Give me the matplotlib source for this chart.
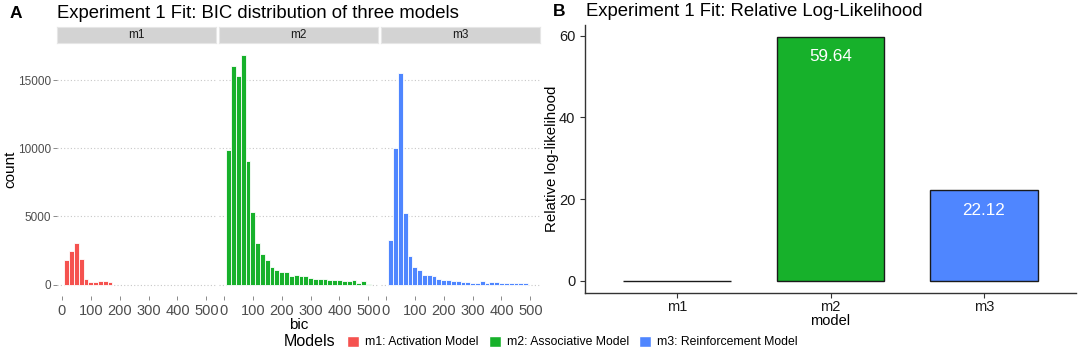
import numpy as np
import matplotlib
matplotlib.use("Agg")
import matplotlib.pyplot as plt
from matplotlib.patches import Patch
from matplotlib.offsetbox import HPacker

plt.rcParams['font.family'] = ['Liberation Sans', 'DejaVu Sans']

# histogram data (bin centres at multiples of ~16.67)
bin_width = 500 / 30
m1_counts = [1820, 2480, 3070, 1880, 380, 150, 200, 270, 270, 170]
m2_counts = [9900, 16030, 15300, 16890, 9100, 5350, 3060, 2230, 1830, 1290,
             1080, 950, 950, 650, 720, 630, 640, 480, 380, 400,
             430, 320, 320, 320, 230, 230, 300, 130, 230, 30]
m3_counts = [3280, 10000, 15540, 5250, 2080, 1290, 1070, 710, 690, 600,
             430, 340, 330, 240, 230, 150, 160, 120, 120, 240,
             120, 190, 190, 110, 80, 80, 80, 80, 100]
panels = ['m1', 'm2', 'm3']
hist_counts = [m1_counts, m2_counts, m3_counts]

# relative log-likelihood
models = ['m1', 'm2', 'm3']
rel_ll = [0.0, 59.64, 22.12]
legend_labels = ['m1: Activation Model', 'm2: Associative Model', 'm3: Reinforcement Model']

colors = ['#F5524F', '#17B12B', '#4F86FF']

fig = plt.figure(figsize=(10.84, 3.55), dpi=100)
W, H = 1084, 355

def ax_at(x0, y0, x1, y1):
    return fig.add_axes([x0 / W, 1 - y1 / H, (x1 - x0) / W, (y1 - y0) / H])

# ---- panel A ----
panel_x = [(57, 216), (219, 378), (381, 540)]
for i, (px0, px1) in enumerate(panel_x):
    ax = ax_at(px0, 43, px1, 296)
    cnt = hist_counts[i]
    centers = bin_width * np.arange(1, len(cnt) + 1)
    ax.bar(centers, cnt, width=bin_width, color=colors[i], edgecolor='white', linewidth=0.6)
    ax.set_xlim(-16.7, 533.3)
    ax.set_ylim(-845, 17745)
    ax.set_yticks([0, 5000, 10000, 15000])
    ax.set_xticks([0, 100, 200, 300, 400, 500])
    ax.yaxis.grid(True, color='#C8C8C8', linestyle=(0, (1, 2)), linewidth=0.8)
    ax.set_axisbelow(True)
    for s in ax.spines.values():
        s.set_visible(False)
    ax.tick_params(axis='both', colors='#777777', labelcolor='#4D4D4D', length=3, width=0.6)
    ax.tick_params(axis='x', labelsize=10.5, pad=2.5)
    ax.tick_params(axis='y', labelsize=8.5, pad=1.5)
    if i > 0:
        ax.set_yticklabels([])
        ax.tick_params(axis='y', length=0)
    if i == 1:
        ax.set_xlabel('bic', fontsize=11, labelpad=0)
    # strip
    sax = ax_at(px0, 27, px1, 43)
    sax.set_facecolor('#D3D3D3')
    sax.set_xticks([])
    sax.set_yticks([])
    for s in sax.spines.values():
        s.set_color('#E6E6E6')
    sax.text(0.5, 0.5, panels[i], ha='center', va='center', fontsize=8.5, color='#1A1A1A', transform=sax.transAxes)

fig.text(10.5 / W, 1 - 169 / H, 'count', fontsize=11, rotation=90, ha='center', va='center')
fig.text(10 / W, 1 - 13 / H, 'A', fontsize=12.5, fontweight='bold', va='center')
fig.text(57 / W, 1 - 13 / H, 'Experiment 1 Fit: BIC distribution of three models', fontsize=13.3, va='center')

# legend, title beside the entries, centred under the figure
handles = [Patch(facecolor=c, edgecolor='white', label=l) for c, l in zip(colors, legend_labels)]
leg = fig.legend(handles=handles, loc='center', bbox_to_anchor=(541 / W, 1 - 342 / H), ncol=3,
                 frameon=False, fontsize=8.8, title='Models', title_fontsize=11.5,
                 handlelength=1.0, handleheight=1.0, handletextpad=0.5, columnspacing=0.8)
leg._legend_box = HPacker(pad=0, sep=8, align='center',
                          children=[leg._legend_title_box, leg._legend_handle_box])
leg._legend_box.set_figure(fig)
leg._legend_box.set_offset(leg._findoffset)

# ---- panel B ----
axb = ax_at(585, 25, 1076, 293)
xpos = np.arange(1, len(models) + 1)
axb.bar(xpos, rel_ll, width=0.7, color=colors, edgecolor='#1A1A1A', linewidth=1.0)
axb.set_xlim(0.4, 3.6)
axb.set_ylim(-2.98, 62.6)
axb.set_xticks(xpos)
axb.set_xticklabels(models)
axb.set_yticks([0, 20, 40, 60])
for s in ['top', 'right']:
    axb.spines[s].set_visible(False)
for s in ['left', 'bottom']:
    axb.spines[s].set_color('#333333')
    axb.spines[s].set_linewidth(1.0)
axb.tick_params(axis='both', colors='#333333', labelcolor='#1A1A1A', labelsize=10.5, length=3.5, width=0.8)
axb.tick_params(axis='x', pad=1.5)
for x, v in zip(xpos, rel_ll):
    if v > 0:
        axb.text(x, v - 4.8, f'{v:.2f}', ha='center', va='center', color='white', fontsize=12.3)
axb.set_xlabel('model', fontsize=10.5, labelpad=0)
fig.text(552 / W, 1 - 159 / H, 'Relative log-likelihood', fontsize=10.8, rotation=90, ha='center', va='center')

fig.text(553 / W, 1 - 11 / H, 'B', fontsize=12.5, fontweight='bold', va='center')
fig.text(586 / W, 1 - 11 / H, 'Experiment 1 Fit: Relative Log-Likelihood', fontsize=13.3, va='center')

fig.savefig('out.png', dpi=100)
